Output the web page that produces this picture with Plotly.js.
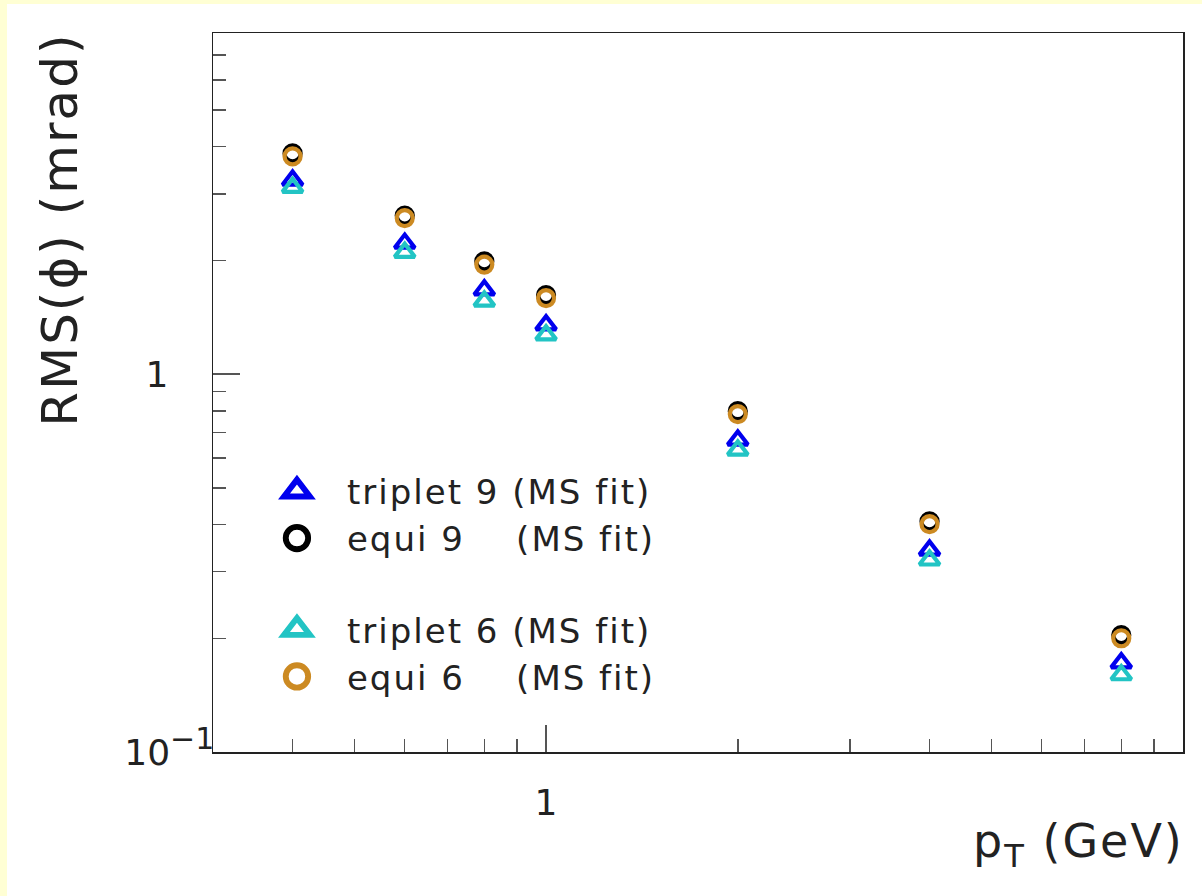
<!DOCTYPE html>
<html><head><meta charset="utf-8">
<script src="https://cdn.plot.ly/plotly-3.0.1.min.js"></script>
<style>
html,body{margin:0;padding:0;background:#ffffd4;overflow:hidden;}
#chart{position:absolute;left:7px;top:4px;width:1195px;height:892px;}
.legendtext{letter-spacing:2px;}
.annotation-text{letter-spacing:2px;}
.legendpoints path.scatterpts{transform:translate(50px,0px) scale(1.4);}
</style></head><body><div id="chart"></div>
<script>
// transverse momentum (GeV)
const pt = [0.4, 0.6, 0.8, 1, 2, 4, 8];
// RMS(phi) in mrad
const triplet9 = [3.26, 2.22, 1.67, 1.35, 0.669, 0.342, 0.172];
const equi9    = [3.84, 2.63, 1.99, 1.62, 0.798, 0.408, 0.204];
const triplet6 = [3.12, 2.10, 1.56, 1.27, 0.629, 0.322, 0.160];
const equi6    = [3.77, 2.59, 1.95, 1.59, 0.784, 0.401, 0.200];
const seriesNames = [
  'triplet 9 (MS fit)',
  'equi 9\u00a0\u00a0\u00a0\u00a0(MS fit)',
  'triplet 6 (MS fit)',
  'equi 6\u00a0\u00a0\u00a0\u00a0(MS fit)'
];
const xMajorTicks = [1];
const xMajorText = ['1'];
const xMinorTicks = [0.4,0.5,0.6,0.7,0.8,0.9,2,3,4,5,6,7,8,9];
const yMajorTicks = [0.1, 1];
const yMajorText = ['10<sup><span style="font-size:30px">\u22121</span></sup>', '1\u00a0\u00a0\u00a0\u00a0'];
const yMinorTicks = [0.2,0.3,0.4,0.5,0.6,0.7,0.8,0.9,2,3,4,5,6,7];

const font = 'DejaVu Sans, sans-serif';
function tr(y, name, color, symbol, size, group) {
  return {
    x: pt, y: y, name: name, type: 'scatter', mode: 'markers',
    legendgroup: group,
    marker: {symbol: symbol, size: size, color: color, line: {width: 4.2, color: color}},
    cliponaxis: false
  };
}
const data = [
  tr(triplet9, seriesNames[0], '#0000ee', 'triangle-up-open', 17.5, 'g9'),
  tr(equi9,    seriesNames[1], '#000000', 'circle-open', 16, 'g9'),
  tr(triplet6, seriesNames[2], '#22c4c4', 'triangle-up-open', 17.5, 'g6'),
  tr(equi6,    seriesNames[3], '#cc8a22', 'circle-open', 16, 'g6')
];
const axisCommon = {
  type: 'log', showgrid: false, zeroline: false,
  showline: true, linecolor: '#222', linewidth: 1.5, mirror: true,
  ticks: 'inside', ticklen: 27, tickwidth: 1.5, tickcolor: '#555',
  tickmode: 'array',
  tickfont: {family: font, size: 36, color: '#222'}
};
const layout = {
  width: 1195, height: 892,
  margin: {l: 206, r: 19, t: 29, b: 144},
  paper_bgcolor: '#ffffff', plot_bgcolor: '#ffffff',
  showlegend: true,
  xaxis: Object.assign({}, axisCommon, {
    range: [Math.log10(0.3), 1],
    tickvals: xMajorTicks, ticktext: xMajorText,
    ticklabelstandoff: 18,
    minor: {tickmode: 'array', tickvals: xMinorTicks, ticks: 'inside', ticklen: 13, tickwidth: 1.5, tickcolor: '#555', showgrid: false}
  }),
  yaxis: Object.assign({}, axisCommon, {
    range: [-1, Math.log10(8)],
    tickvals: yMajorTicks, ticktext: yMajorText,
    ticklabelstandoff: -10,
    minor: {tickmode: 'array', tickvals: yMinorTicks, ticks: 'inside', ticklen: 13, tickwidth: 1.5, tickcolor: '#555', showgrid: false}
  }),
  legend: {
    x: 0.035, y: 0.403, xanchor: 'left', yanchor: 'top',
    bgcolor: 'rgba(0,0,0,0)', borderwidth: 0,
    itemwidth: 90,
    font: {family: font, size: 34, color: '#222'},
    traceorder: 'grouped', tracegroupgap: 44
  },
  annotations: [
    {text: 'RMS(\u03d5) (mrad)', xref: 'paper', yref: 'paper', x: -0.158, y: 0.726,
     xanchor: 'center', yanchor: 'middle', textangle: -90, showarrow: false,
     font: {family: font, size: 50, color: '#222'}},
    {text: 'p<sub>T</sub> (GeV)', xref: 'paper', yref: 'paper', x: 0.892, y: -0.129,
     xanchor: 'center', yanchor: 'middle', showarrow: false,
     font: {family: font, size: 46, color: '#222'}}
  ]
};
Plotly.newPlot('chart', data, layout, {displayModeBar: false, staticPlot: true});
</script></body></html>
